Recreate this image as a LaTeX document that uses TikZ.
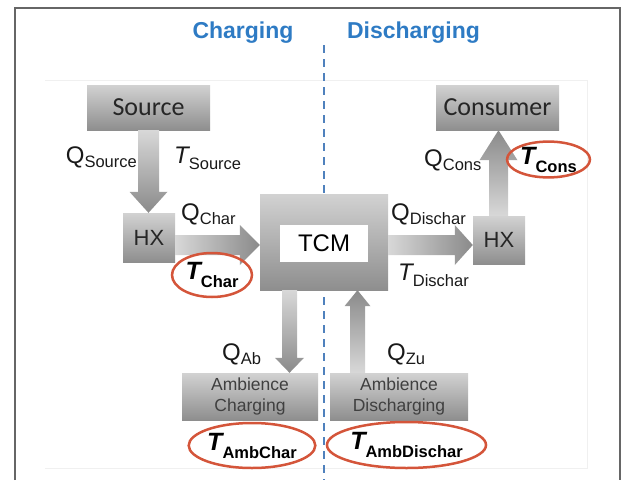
\documentclass[tikz,border=0pt]{standalone}
\usepackage{fontspec}
\setmainfont{Liberation Sans}
\newfontfamily\calfont{Carlito}
\usetikzlibrary{calc,shapes.geometric}
\definecolor{headblue}{HTML}{2E7BC4}
\definecolor{dashblue}{HTML}{4F81BD}
\definecolor{ringred}{HTML}{D4553A}
\definecolor{boxlight}{HTML}{D2D2D2}
\definecolor{boxdark}{HTML}{8E8E8E}
\definecolor{arrlight}{HTML}{D8D8D8}
\definecolor{arrdark}{HTML}{8A8A8A}
% labels: Q_x, T_x and the circled bold T_x
\newcommand{\qlab}[2]{{\fontsize{24pt}{24pt}\selectfont #1}\raisebox{-4pt}{\fontsize{16.5pt}{16.5pt}\selectfont #2}}
\newcommand{\tlab}[1]{{\fontsize{24pt}{24pt}\selectfont\itshape T}\raisebox{-6pt}{\fontsize{16.5pt}{16.5pt}\selectfont #1}}
\newcommand{\tbold}[1]{{\fontsize{25pt}{25pt}\selectfont\bfseries\itshape T}\raisebox{-8pt}{\fontsize{16.5pt}{16.5pt}\selectfont\bfseries #1}}
% block arrow: tail, tip, shaft half width, head half width, head length, shading
\newcommand{\fatarrow}[6]{%
  \coordinate (hb) at ($(#2)!#5!(#1)$);
  \shade[#6] ($(#1)!#3!90:(#2)$) -- ($(hb)!#3!-90:(#1)$) -- ($(hb)!#4!-90:(#1)$) -- (#2)
    -- ($(hb)!#4!90:(#1)$) -- ($(hb)!#3!90:(#1)$) -- ($(#1)!#3!-90:(#2)$) -- cycle;}

\begin{document}
\begin{tikzpicture}[x=1pt, y=-1pt,
  greybox/.style={top color=boxlight, bottom color=boxdark, inner sep=0pt, text=black!85},
  ring/.style={ellipse, draw=ringred, line width=2.5pt, inner sep=0pt},
  sidetitle/.style={text=headblue, anchor=base, inner sep=0pt, font=\fontsize{23pt}{23pt}\selectfont\bfseries},
  lab/.style={anchor=base west, inner sep=0pt, text=black!90},
  fatdown/.style={top color=arrlight, bottom color=arrdark},
  fatup/.style={top color=arrdark, bottom color=arrlight},
  fatright/.style={left color=arrlight, right color=arrdark}]
\useasboundingbox (0,0) rectangle (622,480);
\draw[black!6] (45,80) -- (587,80) -- (587,468) -- (45,468);
\draw[line width=1.5pt, black!60] (15,480) -- (15,8) -- (620,8) -- (620,480);

\node[sidetitle] (charging) at (243,38) {Charging};
\node[sidetitle] (discharging) at (413.5,38) {Discharging};
\draw[dashblue, line width=2pt, dash pattern=on 8pt off 6pt] (324,45) -- (324,480);

\node[greybox, minimum width=123, minimum height=45, font=\calfont\fontsize{26pt}{26pt}\selectfont] (src) at (148.5,107.5) {Source};
\node[greybox, minimum width=123, minimum height=45, font=\calfont\fontsize{26pt}{26pt}\selectfont] (cons) at (497.5,107.5) {Consumer};
\node[greybox, minimum width=52, minimum height=49, font=\fontsize{22pt}{22pt}\selectfont] (hxl) at (149,237.5) {HX};
\node[greybox, minimum width=52, minimum height=48, font=\fontsize{22pt}{22pt}\selectfont] (hxr) at (499,240) {HX};
\node[greybox, minimum width=128, minimum height=96] (tcm) at (324,242) {};
\node[fill=white, minimum width=88, minimum height=37, inner sep=0pt, font=\fontsize{24pt}{24pt}\selectfont] (tcmin) at (324,243.5) {TCM};
\node[greybox, minimum width=136, minimum height=47, align=center, text=black!75, font=\fontsize{17.5pt}{21pt}\selectfont] (ambc) at (250,396.5) {Ambience\\Charging};
\node[greybox, minimum width=138, minimum height=47, align=center, text=black!75, font=\fontsize{17.5pt}{21pt}\selectfont] (ambd) at (399,396.5) {Ambience\\Discharging};

\coordinate (a1t) at (src.south);
\coordinate (a1h) at ($(hxl.north)+(-0.5,0)$);
\coordinate (a2t) at ($(hxl.east)+(0,7.5)$);
\coordinate (a2h) at ($(tcm.west)+(0,3)$);
\coordinate (a3t) at ($(tcm.east)+(0,3)$);
\coordinate (a3h) at ($(hxr.west)+(0,5)$);
\coordinate (a4t) at ($(hxr.north)+(-0.5,0)$);
\coordinate (a4h) at ($(cons.south)+(1,0)$);
\coordinate (a5t) at ($(tcm.south)+(-34.5,0)$);
\coordinate (a5h) at ($(ambc.north)+(39.5,0)$);
\coordinate (a6t) at ($(ambd.north)+(-41.5,0)$);
\coordinate (a6h) at ($(tcm.south)+(33.5,0)$);
\fatarrow{a1t}{a1h}{10.5pt}{19pt}{21pt}{fatdown}
\fatarrow{a2t}{a2h}{10pt}{20pt}{20pt}{fatright}
\fatarrow{a3t}{a3h}{10pt}{20pt}{18pt}{fatright}
\fatarrow{a4t}{a4h}{9.5pt}{19pt}{30pt}{fatup}
\fatarrow{a5t}{a5h}{7.5pt}{14.5pt}{15pt}{fatdown}
\fatarrow{a6t}{a6h}{7.5pt}{13pt}{16pt}{fatup}

\node[lab, anchor=base east] (qsrc) at (137,163) {\qlab{Q}{Source}};
\node[lab] (tsrc) at (174,163) {\tlab{Source}};
\node[lab] (qchar) at (181,220) {\qlab{Q}{Char}};
\node[lab] (qdis) at (391,220) {\qlab{Q}{Dischar}};
\node[lab] (tdis) at (398,280) {\tlab{Dischar}};
\node[lab] (qcons) at (424,166) {\qlab{Q}{Cons}};
\node[lab] (qab) at (222,360) {\qlab{Q}{Ab}};
\node[lab] (qzu) at (387,360) {\qlab{Q}{Zu}};

\node[ring, minimum width=80, minimum height=44] (tchar) at (212,275) {\tbold{Char}};
\node[ring, minimum width=83, minimum height=35] (tcons) at (548.5,159.5) {\tbold{Cons}};
\node[ring, minimum width=120, minimum height=45] (tambc) at (252,445.5) {\tbold{AmbChar}};
\node[ring, minimum width=137, minimum height=46] (tambd) at (406.5,445) {\tbold{AmbDischar}};
\end{tikzpicture}
\end{document}
